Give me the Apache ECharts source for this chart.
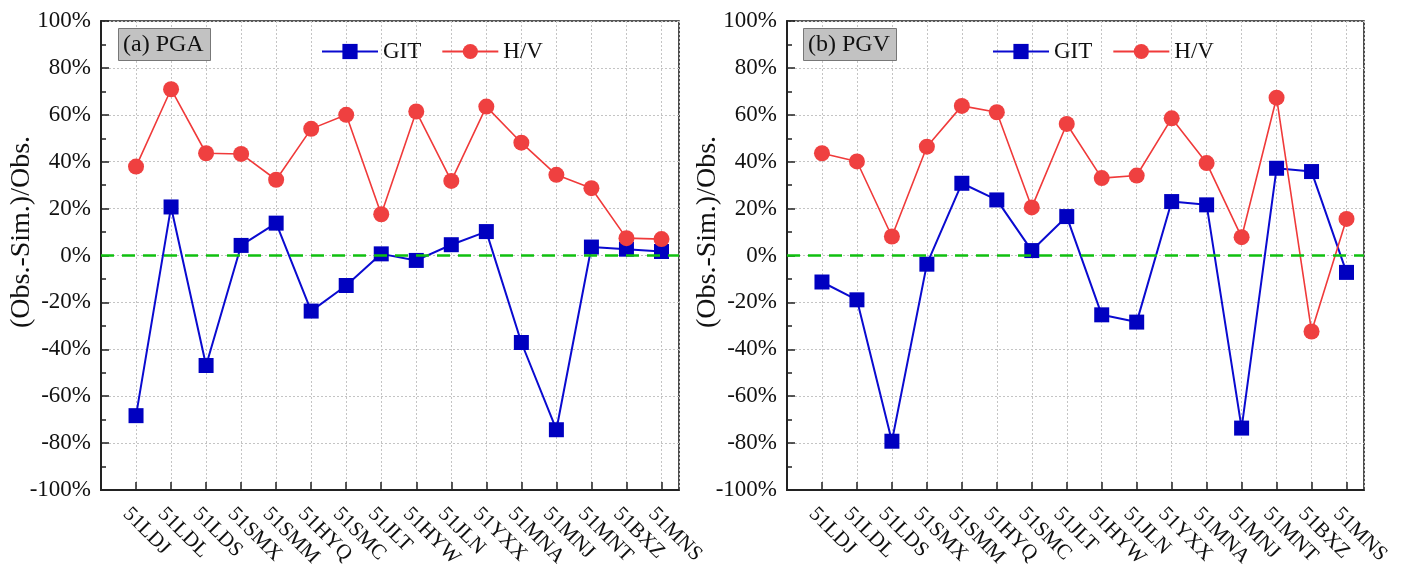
<!DOCTYPE html>
<html><head><meta charset="utf-8">
<script src="https://cdn.jsdelivr.net/npm/echarts@6/dist/echarts.min.js"></script>
<style>html,body{margin:0;padding:0;background:#fff}#c{width:1402px;height:568px}</style>
</head><body><div id="c"></div>
<script>
const stations = ['51LDJ','51LDL','51LDS','51SMX','51SMM','51HYQ','51SMC','51JLT','51HYW','51JLN','51YXX','51MNA','51MNJ','51MNT','51BXZ','51MNS'];
const yTicks = [-100,-80,-60,-40,-20,0,20,40,60,80,100];
const pgaGIT = [-68.3,20.7,-46.9,4.3,13.8,-23.7,-12.8,0.7,-2.1,4.6,10.2,-37.1,-74.3,3.6,2.7,1.7];
const pgaHV  = [37.9,70.9,43.6,43.3,32.3,54.0,60.0,17.6,61.4,31.8,63.5,48.1,34.4,28.7,7.4,7.0];
const pgvGIT = [-11.3,-18.9,-79.2,-3.7,30.8,23.7,2.1,16.6,-25.3,-28.4,23.0,21.6,-73.6,37.2,35.8,-7.2];
const pgvHV  = [43.6,40.1,8.1,46.4,63.8,61.1,20.5,56.1,33.0,34.1,58.5,39.4,7.8,67.3,-32.4,15.6];
const panelTitles = ['(a) PGA','(b) PGV'];
const yName = '(Obs.-Sim.)/Obs.';

const FONT = 'Liberation Serif';
const grids = [
  {left:101, top:21, width:578, height:469},
  {left:787, top:21, width:577, height:469}
];
function pairs(arr){ return arr.map((v,i)=>[i+1, v]); }

const xAxes = [], yAxes = [], series = [], titles = [], legends = [], graphics = [];
[ [pgaGIT,pgaHV], [pgvGIT,pgvHV] ].forEach((d, gi) => {
  xAxes.push({
    type:'value', gridIndex:gi, min:0, max:16.5, interval:1,
    axisLine:{show:true, onZero:false, lineStyle:{color:'#222', width:2}},
    axisTick:{show:true, inside:true, length:8, lineStyle:{color:'#222', width:1.5}},
    axisLabel:{rotate:-45, fontFamily:FONT, fontSize:21, color:'#111', margin:11,
      verticalAlign:'top', lineHeight:28,
      showMaxLabel:false, showMinLabel:false,
      formatter:v => (Number.isInteger(v) && v>=1 && v<=stations.length) ? stations[v-1] : ''},
    splitLine:{show:true, lineStyle:{color:'#c4c4c4', type:[2,2], width:1}}
  });
  yAxes.push({
    type:'value', gridIndex:gi, min:yTicks[0], max:yTicks[yTicks.length-1], interval:20,
    axisLine:{show:true, onZero:false, lineStyle:{color:'#222', width:2}},
    axisTick:{show:true, inside:true, length:8, lineStyle:{color:'#222', width:1.5}},
    minorTick:{show:true, splitNumber:2, length:5, lineStyle:{color:'#222', width:1.5}},
    axisLabel:{fontFamily:FONT, fontSize:23, color:'#111', margin:10, formatter:'{value}%'},
    splitLine:{show:true, lineStyle:{color:'#c4c4c4', type:[2,2], width:1}}
  });
  series.push({
    name:'GIT', type:'line', xAxisIndex:gi, yAxisIndex:gi, data:pairs(d[0]),
    symbol:'rect', symbolSize:15, lineStyle:{color:'#0a0ad0', width:2},
    itemStyle:{color:'#0000c0'}, z:3,
    markLine:{silent:true, symbol:'none', label:{show:false}, animation:false,
      lineStyle:{color:'#10c010', type:[13,8], width:2.6}, data:[{yAxis:0}]}
  });
  series.push({
    name:'H/V', type:'line', xAxisIndex:gi, yAxisIndex:gi, data:pairs(d[1]),
    symbol:'circle', symbolSize:16, lineStyle:{color:'#f03a3a', width:1.6},
    itemStyle:{color:'#ef4040'}, z:4
  });
  titles.push({
    text:panelTitles[gi], left: gi===0 ? 118 : 803, top:28,
    backgroundColor:'#c2c2c2', borderColor:'#777', borderWidth:1, padding:[5,7,4,5],
    textStyle:{fontFamily:FONT, fontSize:24, fontWeight:'normal', color:'#111'}
  });
  legends.push({
    data:['GIT','H/V'], left: gi===0 ? 316 : 987, top:35, orient:'horizontal',
    itemWidth:56, itemHeight:19, itemGap:20,
    textStyle:{fontFamily:FONT, fontSize:23, color:'#111'}
  });
  graphics.push({
    type:'text', x: grids[gi].left - 79, y: 232, rotation: Math.PI/2,
    style:{text:yName, fontFamily:FONT, fontSize:28, fill:'#111', align:'center', verticalAlign:'middle'}
  });
});

const chart = echarts.init(document.getElementById('c'), null, {renderer:'canvas'});
chart.setOption({
  animation:false,
  backgroundColor:'#fff',
  title:titles,
  legend:legends,
  graphic:graphics,
  grid:grids.map(g => Object.assign({show:true, borderColor:'#222', borderWidth:1.6, backgroundColor:'transparent',
    containLabel:false, outerBoundsMode:'none'}, g)),
  xAxis:xAxes, yAxis:yAxes, series:series
});
</script></body></html>
